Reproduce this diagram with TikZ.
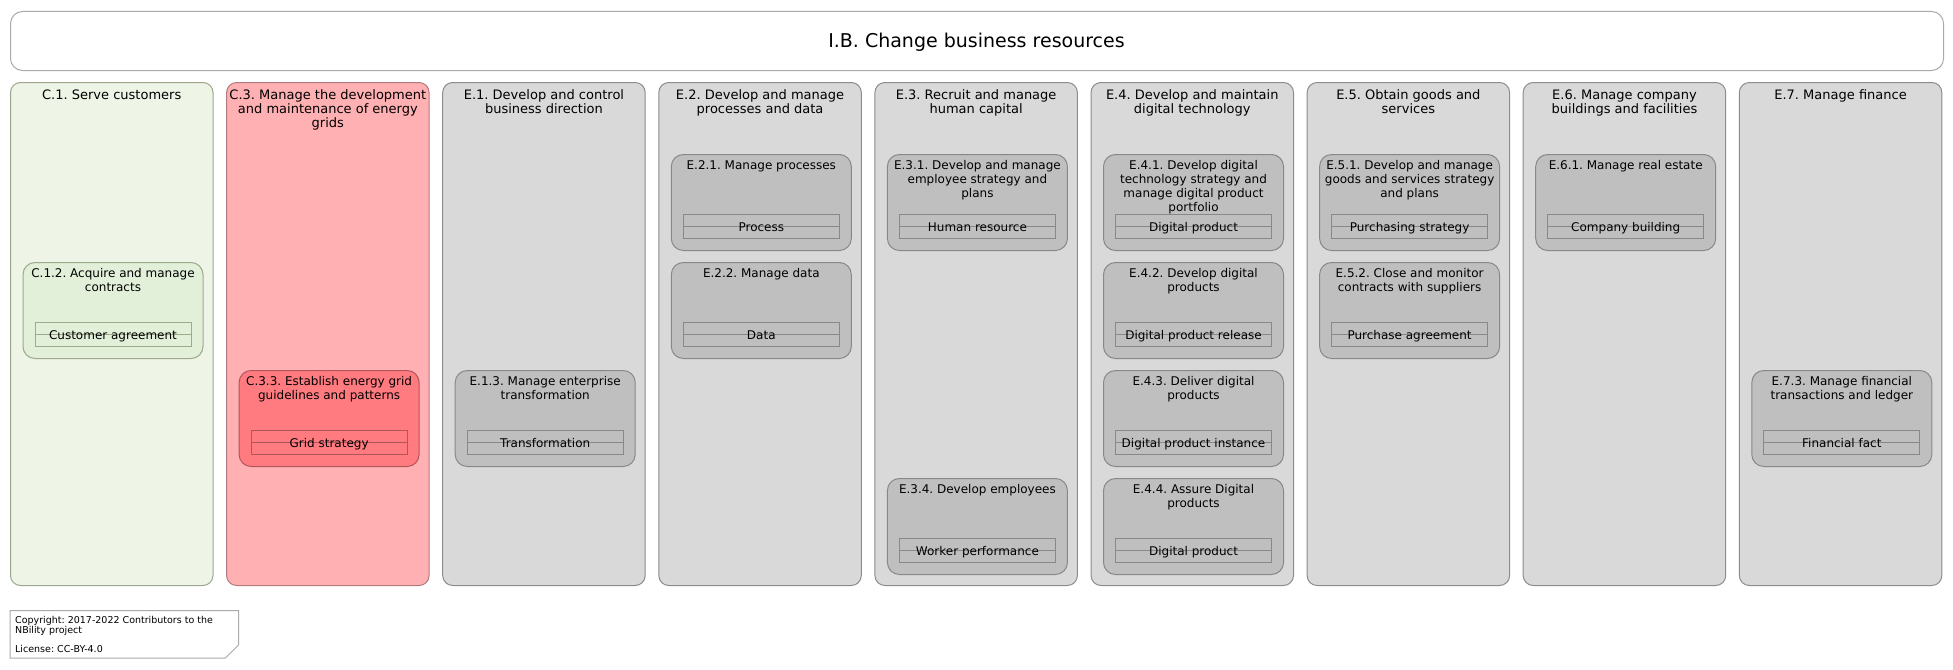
\documentclass[tikz,border=0pt]{standalone}
\usepackage{fontspec}
\setmainfont{DejaVu Sans}
\frenchspacing
\definecolor{cgfill}{HTML}{EEF4E6}
\definecolor{cgdraw}{HTML}{9EA68E}
\definecolor{igfill}{HTML}{E2EFD9}
\definecolor{igdraw}{HTML}{9EAA8A}
\definecolor{crfill}{HTML}{FFB0B3}
\definecolor{crdraw}{HTML}{B07B7E}
\definecolor{irfill}{HTML}{FF7B80}
\definecolor{irdraw}{HTML}{B0555A}
\definecolor{cefill}{HTML}{D9D9D9}
\definecolor{cedraw}{HTML}{8C8C8C}
\definecolor{iefill}{HTML}{BFBFBF}
\definecolor{iedraw}{HTML}{888888}
\definecolor{framegray}{HTML}{AAAAAA}
\tikzset{
  colgreen/.style={draw=cgdraw,fill=cgfill},
  colred/.style={draw=crdraw,fill=crfill},
  colgray/.style={draw=cedraw,fill=cefill},
  ingreen/.style={draw=igdraw,fill=igfill},
  inred/.style={draw=irdraw,fill=irfill},
  ingray/.style={draw=iedraw,fill=iefill},
  colbase/.style={rounded corners=10pt,line width=1pt,inner sep=0pt,minimum width=202.5pt,minimum height=503pt,anchor=north west},
  inbase/.style={rounded corners=12pt,line width=1pt,inner sep=0pt,minimum width=180pt,minimum height=96pt,anchor=north west},
  coltitle/.style={inner sep=0pt,align=center,font=\fontsize{13}{14.2}\selectfont,anchor=north},
  intitle/.style={inner sep=0pt,align=center,font=\fontsize{12}{13.8}\selectfont,anchor=north},
  resrect/.style={draw=#1,line width=1pt,inner sep=0pt,minimum width=156pt,minimum height=24pt,anchor=north},
  restext/.style={inner sep=0pt,font=\fontsize{12}{14}\selectfont,anchor=base},
  notetext/.style={inner sep=0pt,align=left,font=\fontsize{9.5}{10.5}\selectfont,anchor=base west},
}
% #1 name, #2 column index, #3 style, #4 title
\newcommand{\mycolumn}[4]{%
  \node[colbase,#3] (#1) at ({10+216.1*#2},-82) {};
  \node[coltitle] (#1-t) at ([yshift=-7.3pt]#1.north) {#4};
}
% #1 name, #2 column index, #3 row, #4 style, #5 title, #6 resource, #7 resource border
\newcommand{\myproc}[7]{%
  \node[inbase,#4] (#1) at ({22.5+216.1*#2},{-154-108*(#3-1)}) {};
  \node[intitle] (#1-t) at ([yshift=-6.3pt]#1.north) {#5};
  \node[resrect=#7] (#1-r) at ([yshift=-60pt]#1.north) {};
  \draw[draw=#7,line width=1pt] (#1-r.west) -- (#1-r.east);
  \node[restext] (#1-rt) at ([yshift=-4.5pt]#1-r.center) {#6};
}
\begin{document}
\begin{tikzpicture}[x=1pt,y=1pt]
\useasboundingbox (0,0) rectangle (1953,-669);
% title
\node[draw=framegray,line width=1pt,rounded corners=12pt,minimum width=1933pt,minimum height=59pt,anchor=north west,inner sep=0pt] (title) at (10,-11) {};
\node[inner sep=0pt,font=\fontsize{19}{22}\selectfont,anchor=base] (title-t) at (976.5,-47.3) {I.B. Change business resources};
% columns
\mycolumn{c1}{0}{colgreen}{C.1. Serve customers}
\mycolumn{c3}{1}{colred}{C.3. Manage the development\\and maintenance of energy\\grids}
\mycolumn{e1}{2}{colgray}{E.1. Develop and control\\business direction}
\mycolumn{e2}{3}{colgray}{E.2. Develop and manage\\processes and data}
\mycolumn{e3}{4}{colgray}{E.3. Recruit and manage\\human capital}
\mycolumn{e4}{5}{colgray}{E.4. Develop and maintain\\digital technology}
\mycolumn{e5}{6}{colgray}{E.5. Obtain goods and\\services}
\mycolumn{e6}{7}{colgray}{E.6. Manage company\\buildings and facilities}
\mycolumn{e7}{8}{colgray}{E.7. Manage finance}
% processes
\myproc{c12}{0}{2}{ingreen}{C.1.2. Acquire and manage\\contracts}{Customer agreement}{igdraw}
\myproc{c33}{1}{3}{inred}{C.3.3. Establish energy grid\\guidelines and patterns}{Grid strategy}{irdraw}
\myproc{e13}{2}{3}{ingray}{E.1.3. Manage enterprise\\transformation}{Transformation}{iedraw}
\myproc{e21}{3}{1}{ingray}{E.2.1. Manage processes}{Process}{iedraw}
\myproc{e22}{3}{2}{ingray}{E.2.2. Manage data}{Data}{iedraw}
\myproc{e31}{4}{1}{ingray}{E.3.1. Develop and manage\\employee strategy and\\plans}{Human resource}{iedraw}
\myproc{e34}{4}{4}{ingray}{E.3.4. Develop employees}{Worker performance}{iedraw}
\myproc{e41}{5}{1}{ingray}{E.4.1. Develop digital\\technology strategy and\\manage digital product\\portfolio}{Digital product}{iedraw}
\myproc{e42}{5}{2}{ingray}{E.4.2. Develop digital\\products}{Digital product release}{iedraw}
\myproc{e43}{5}{3}{ingray}{E.4.3. Deliver digital\\products}{Digital product instance}{iedraw}
\myproc{e44}{5}{4}{ingray}{E.4.4. Assure Digital\\products}{Digital product}{iedraw}
\myproc{e51}{6}{1}{ingray}{E.5.1. Develop and manage\\goods and services strategy\\and plans}{Purchasing strategy}{iedraw}
\myproc{e52}{6}{2}{ingray}{E.5.2. Close and monitor\\contracts with suppliers}{Purchase agreement}{iedraw}
\myproc{e61}{7}{1}{ingray}{E.6.1. Manage real estate}{Company building}{iedraw}
\myproc{e73}{8}{3}{ingray}{E.7.3. Manage financial\\transactions and ledger}{Financial fact}{iedraw}
% copyright note
\draw[draw=framegray,line width=1pt,fill=white] (10,-610.5) -- (238.5,-610.5) -- (238.5,-645) -- (225.5,-658) -- (10,-658) -- cycle;
\node[notetext] (note1) at (15,-633.5) {Copyright: 2017-2022 Contributors to the\\NBility project};
\node[notetext] (note2) at (15,-652.5) {License: CC-BY-4.0};
\end{tikzpicture}
\end{document}
